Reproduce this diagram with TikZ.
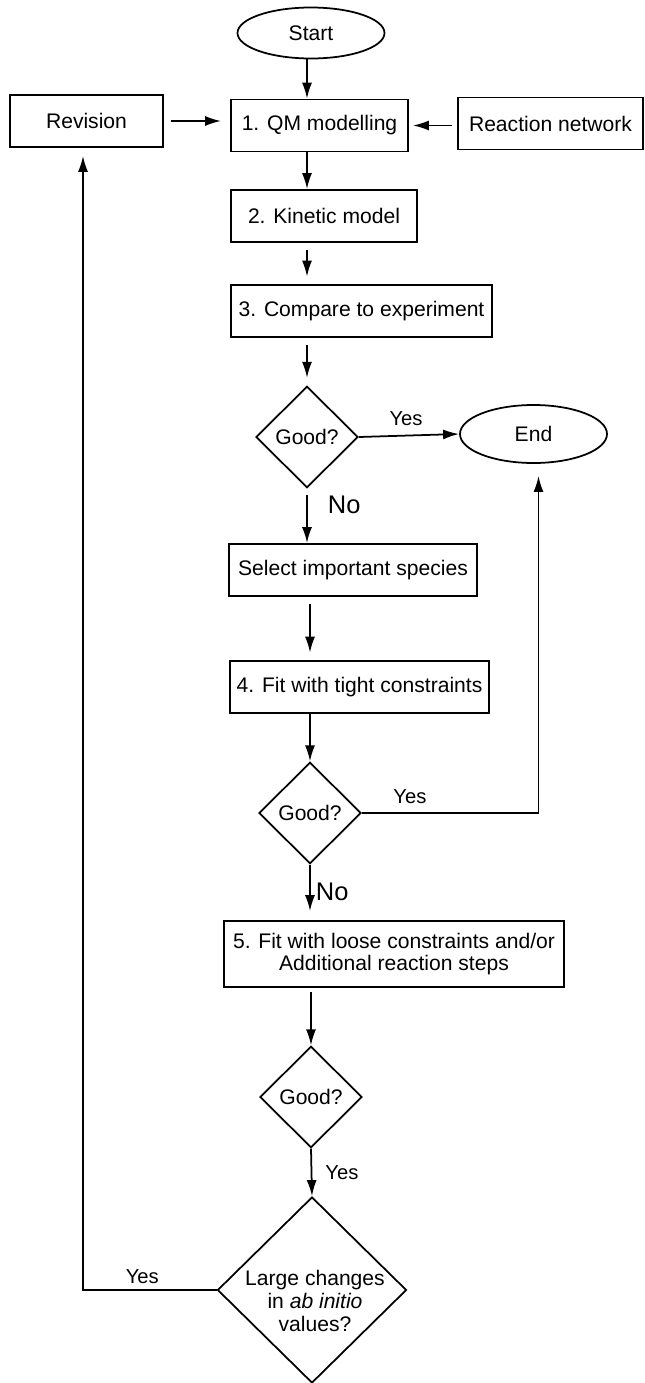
\documentclass[tikz,border=0pt]{standalone}
\usepackage{fontspec}
\setmainfont{Liberation Sans}
\usetikzlibrary{shapes.geometric,arrows.meta}

\begin{document}
\begin{tikzpicture}[x=0.2mm,y=-0.2mm,line width=1pt,
        font=\fontsize{12}{13}\selectfont,
        box/.style={draw,rectangle,minimum height=10.4mm,inner sep=2pt},
        term/.style={draw,ellipse,minimum width=29.4mm,minimum height=10.2mm},
        choice/.style={draw,diamond,minimum width=20.4mm,minimum height=20.3mm,inner sep=0pt},
        flow/.style={-{Latex[length=3.2mm,width=2mm]}},
        spaced/.style={shorten <=1.5mm,shorten >=1.5mm},
        yes/.style={font=\fontsize{11.5}{13}\selectfont,inner sep=0pt},
        no/.style={font=\fontsize{14.5}{16}\selectfont,inner sep=0pt}]
                \useasboundingbox (0,0) rectangle (644,1383);

                \node[term] (Start) at (311,33) {Start};
                \node[box,minimum width=30.6mm] (Rev) at (86.5,121) {Revision};
                \node[box,minimum width=35.4mm] (QM) at (319.5,125.5) {1. QM modelling};
                \node[box,minimum width=37mm] (Net) at (550.5,123.5) {Reaction network};
                \node[box,minimum width=37.2mm] (Kin) at (324,216) {2. Kinetic model};
                \node[box,minimum width=52.2mm] (Cmp) at (361.5,311) {3. Compare to experiment};
                \node[choice] (G1) at (307,437) {Good?};
                \node[term,minimum height=11.6mm] (End) at (533.5,434) {End};
                \node[box,minimum width=49.6mm] (Sel) at (353,570) {Select important species};
                \node[box,minimum width=51.8mm] (Fit4) at (359.5,687) {4. Fit with tight constraints};
                \node[choice] (G2) at (310,813) {Good?};
                \node[box,minimum width=68mm,minimum height=13.2mm,align=center] (Fit5) at (394,954)
                        {5. Fit with loose constraints and/or\\Additional reaction steps};
                \node[choice] (G3) at (311,1097) {Good?};
                \node[choice,minimum width=37.8mm,minimum height=37.2mm] (Big) at (312,1290) {};
                \node[align=center,inner sep=0pt] (BigTxt) at (315,1301)
                        {Large changes\\in \textit{ab initio}\\values?};

                \draw[flow] (Start.south -| G1) -- (QM.north -| G1);
                \draw[flow,shorten <=1.4mm,shorten >=1.8mm] (Rev.east) -- (Rev.east -| QM.west);
                \draw[flow,shorten <=1mm,shorten >=0.8mm] (Net.west |- QM.east) -- (QM.east);
                \draw[flow] (QM.south -| G1) -- (Kin.north -| G1);
                \draw[flow,spaced] (Kin.south -| G1) -- (Cmp.north -| G1);
                \draw[flow,spaced] (Cmp.south -| G1) -- (G1.north);
                \draw[flow] (G1.east) -- (End.west)
                        node[yes,pos=0.47,anchor=south,yshift=1.8mm] {Yes};
                \draw[flow,shorten <=1.2mm] (G1.south) -- (Sel.north -| G1)
                        node[no,pos=0.3,anchor=west,xshift=4mm] {No};
                \draw[flow,spaced] (Sel.south -| G2) -- (Fit4.north -| G2);
                \draw[flow] (Fit4.south -| G2) -- (G2.north);
                \draw[flow,shorten >=2.4mm] (G2.east) -| ([xshift=1mm]End.south)
                        node[yes,pos=0.136,anchor=south,yshift=1.6mm] {Yes};
                \draw[flow,shorten >=1.8mm] (G2.south) -- (Fit5.north -| G2)
                        node[no,pos=0.49,anchor=west,xshift=1mm] {No};
                \draw[flow,shorten <=0.8mm] (Fit5.south -| G3) -- (G3.north);
                \draw[flow] (G3.south) -- (Big.north)
                        node[yes,pos=0.5,anchor=west,xshift=2.6mm] {Yes};
                \draw[flow,shorten >=1.6mm] (Big.west) -| ([xshift=-0.7mm]Rev.south)
                        node[yes,pos=0.278,anchor=south,yshift=1mm] {Yes};
\end{tikzpicture}
\end{document}
